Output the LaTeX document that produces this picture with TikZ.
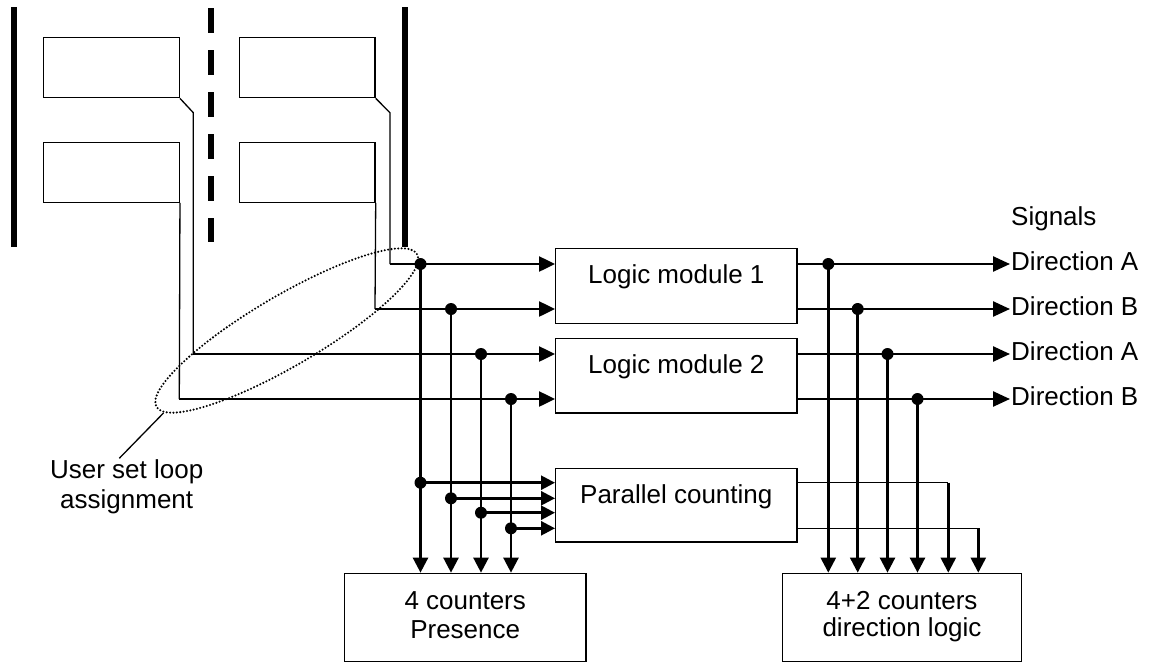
\documentclass[tikz,border=0pt]{standalone}
\usepackage{fontspec}
\setmainfont{Liberation Sans}
\usetikzlibrary{arrows.meta}
\begin{document}
\begin{tikzpicture}[x=1pt,y=-1pt,
  txt/.style={font=\fontsize{26}{30}\selectfont, inner sep=0pt},
  box/.style={draw, line width=1.3pt, inner sep=0pt},
  wire/.style={line width=1.3pt},
  bus/.style={line width=2.5pt},
  bar/.style={line width=6pt},
  inarr/.style={-{Triangle[length=16pt,width=15pt]}},
  pcarr/.style={-{Triangle[length=14pt,width=14pt]}},
  outarr/.style={-{Triangle[length=17pt,width=15pt]}},
  dnarr/.style={-{Triangle[length=15pt,width=15pt]}},
  dotr/.style={fill=black},
]
\useasboundingbox[fill=white] (0,0) rectangle (1149,664);

% road edges
\draw[bar] (13.7,7.3) -- (13.7,247.3);
\draw[bar, dash pattern=on 24.5pt off 17.5pt] (210.7,8) -- (210.7,242);
\draw[bar] (405,7.3) -- (405,247);

% loops
\node[box, minimum width=136pt, minimum height=60.4pt] (tl) at (111.3,67.5) {};
\node[box, minimum width=136pt, minimum height=59.6pt] (bl) at (111.3,172.5) {};
\node[box, minimum width=135.7pt, minimum height=60.4pt] (tr) at (307.2,67.5) {};
\node[box, minimum width=135.7pt, minimum height=59.6pt] (br) at (307.2,172.5) {};

% modules
\node[box, txt, minimum width=241.3pt, text height=35pt, text depth=40pt, anchor=base] (lm1) at (676.3,283.3) {Logic module 1};
\node[box, txt, minimum width=241.3pt, text height=35pt, text depth=39.7pt, anchor=base] (lm2) at (676.3,373.3) {Logic module 2};
\node[box, txt, minimum width=241.3pt, text height=35pt, text depth=38.7pt, anchor=base] (pc) at (676.3,503.3) {Parallel counting};

\node[box, minimum width=241.7pt, minimum height=88.4pt] (pres) at (465.2,617.5) {};
\node[txt, anchor=base] (pres1) at (465.2,609) {4 counters};
\node[txt, anchor=base] (pres2) at (465.2,638) {Presence};

\node[box, minimum width=239.4pt, minimum height=88.4pt] (dl) at (902,617.5) {};
\node[txt, anchor=base] (dl1) at (902,609.3) {4+2 counters};
\node[txt, anchor=base] (dl2) at (902,636.7) {direction logic};

% output labels
\node[txt, anchor=base west, inner xsep=1pt] (sig) at (1010,225) {Signals};
\node[txt, anchor=base west, inner xsep=1pt] (d1) at (1010,270.7) {Direction A};
\node[txt, anchor=base west, inner xsep=1pt] (d2) at (1010,315.5) {Direction B};
\node[txt, anchor=base west, inner xsep=1pt] (d3) at (1010,360.5) {Direction A};
\node[txt, anchor=base west, inner xsep=1pt] (d4) at (1010,405.5) {Direction B};

% user label
\node[txt, anchor=base] (u1) at (126.7,478) {User set loop};
\node[txt, anchor=base] (u2) at (126.7,508) {assignment};

% coordinates
\coordinate (k1) at (390,112.7);
\coordinate (s1) at (390,264);
\coordinate (s2) at (375,309);
\coordinate (k3) at (193.3,112.7);
\coordinate (s3) at (193.3,354);
\coordinate (s4) at (179.3,399);

\coordinate (j1) at (420.5,264);
\coordinate (j2) at (451,309);
\coordinate (j3) at (481,354);
\coordinate (j4) at (511,399);

\coordinate (p1) at (420.5,482.7);
\coordinate (p2) at (451,498.3);
\coordinate (p3) at (481,512.7);
\coordinate (p4) at (511,528.3);

\coordinate (o1) at (828.3,264);
\coordinate (o2) at (857.7,309);
\coordinate (o3) at (887.5,354);
\coordinate (o4) at (917.5,399);

\coordinate (c5) at (948.3,482.7);
\coordinate (c6) at (978.3,528.3);

% thin loop wires
\draw[wire] (tr.south east) -- (k1) -- (s1);
\draw[wire] (br.south east) -- (s2);
\draw[wire] (tl.south east) -- (k3) -- (s3);
\draw[wire] (bl.south east) -- (s4);

% inputs to logic modules
\draw[bus, inarr] (s1) -- (lm1.west |- s1);
\draw[bus, inarr] (s2) -- (lm1.west |- s2);
\draw[bus, inarr] (s3) -- (lm2.west |- s3);
\draw[bus, inarr] (s4) -- (lm2.west |- s4);

% presence verticals
\draw[bus, dnarr] (j1) -- (pres.north -| j1);
\draw[bus, dnarr] (j2) -- (pres.north -| j2);
\draw[bus, dnarr] (j3) -- (pres.north -| j3);
\draw[bus, dnarr] (j4) -- (pres.north -| j4);

% parallel counting inputs
\draw[bus, pcarr] (p1) -- (pc.west |- p1);
\draw[bus, pcarr] (p2) -- (pc.west |- p2);
\draw[bus, pcarr] (p3) -- (pc.west |- p3);
\draw[bus, pcarr] (p4) -- (pc.west |- p4);

% outputs
\draw[bus, outarr] (lm1.east |- o1) -- (d1.west |- o1);
\draw[bus, outarr] (lm1.east |- o2) -- (d2.west |- o2);
\draw[bus, outarr] (lm2.east |- o3) -- (d3.west |- o3);
\draw[bus, outarr] (lm2.east |- o4) -- (d4.west |- o4);

\draw[bus, dnarr] (o1) -- (dl.north -| o1);
\draw[bus, dnarr] (o2) -- (dl.north -| o2);
\draw[bus, dnarr] (o3) -- (dl.north -| o3);
\draw[bus, dnarr] (o4) -- (dl.north -| o4);

% parallel counting outputs
\draw[wire] (pc.east |- c5) -- (c5);
\draw[wire] (pc.east |- c6) -- (c6);
\draw[bus, dnarr] (c5) -- (dl.north -| c5);
\draw[bus, dnarr] (c6) -- (dl.north -| c6);

% junction dots
\foreach \p in {j1,j2,j3,j4,p1,p2,p3,p4,o1,o2,o3,o4}
  \fill[dotr] (\p) circle (6pt);

% ellipse and pointer
\coordinate (ec) at (286.7,330.5);
\draw[line width=2.3pt, line cap=round, dash pattern=on 0pt off 3.4pt, rotate around={30.4:(ec)}] (ec) ellipse [x radius=151pt, y radius=35pt];
\coordinate (ps) at (119.3,458.3);
\coordinate (pe) at (163.5,413);
\draw[wire] (ps) -- (pe);
\end{tikzpicture}
\end{document}
